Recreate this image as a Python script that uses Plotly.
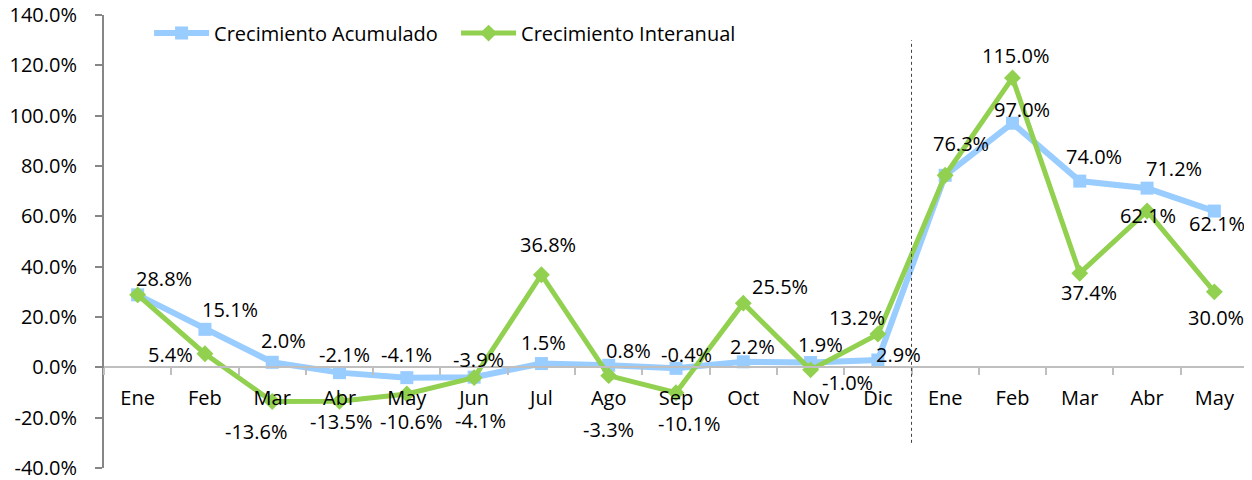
import plotly.graph_objects as go

months = ["Ene", "Feb", "Mar", "Abr", "May", "Jun", "Jul", "Ago", "Sep", "Oct", "Nov", "Dic",
          "Ene", "Feb", "Mar", "Abr", "May"]
first_year_len = 12
acumulado = [28.8, 15.1, 2.0, -2.1, -4.1, -3.9, 1.5, 0.8, -0.4, 2.2, 1.9, 2.9,
             76.3, 97.0, 74.0, 71.2, 62.1]
interanual = [28.8, 5.4, -13.6, -13.5, -10.6, -4.1, 36.8, -3.3, -10.1, 25.5, -1.0, 13.2,
              76.3, 115.0, 37.4, 62.1, 30.0]
ytick_vals = [-40, -20, 0, 20, 40, 60, 80, 100, 120, 140]

# label offsets in px (dx right, dy down); None = no separate label
acu_off = [(26, -16), (25, -20), (11, -22), (5, -18), (0, -23), (4, -18), (2, -21), (20, -15),
           (10, -14), (9, -15), (10, -18), (21, -6), (16, -32), (10, -14), (14, -25), (27, -20), (3, 12)]
int_off = [None, (-34, 1), (-16, 30), (2, 20), (5, 27), (6, 43), (7, -30), (0, 54),
           (13, 31), (37, -17), (37, 13), (-21, -17), None, (4, -22), (9, 19), (1, 4), (2, 26)]

FONT = "Open Sans"
FS = 20
BLUE = "#99CCFF"
GREEN = "#92D050"

x = list(range(len(months)))

fig = go.Figure()
fig.add_trace(go.Scatter(
    x=x, y=acumulado, name="Crecimiento Acumulado", mode="lines+markers",
    line=dict(color=BLUE, width=6), marker=dict(symbol="square", size=13, color=BLUE),
    cliponaxis=False,
))
fig.add_trace(go.Scatter(
    x=x, y=interanual, name="Crecimiento Interanual", mode="lines+markers",
    line=dict(color=GREEN, width=5), marker=dict(symbol="diamond", size=13, color=GREEN),
    cliponaxis=False,
))

annotations = []
for series, offs in ((acumulado, acu_off), (interanual, int_off)):
    for i, (v, off) in enumerate(zip(series, offs)):
        if off is None:
            continue
        annotations.append(dict(
            x=i, y=v, xref="x", yref="y", text=f"{v:.1f}%", showarrow=False,
            xshift=off[0], yshift=-off[1], font=dict(family=FONT, size=FS, color="black"),
        ))

sep = first_year_len - 0.5
fig.add_shape(type="line", x0=sep, x1=sep, y0=-30, y1=130, xref="x", yref="y",
              line=dict(color="#404040", width=1, dash="3px,3px"))

ymin, ymax = ytick_vals[0], ytick_vals[-1]
fig.update_layout(
    width=1244, height=472,
    margin=dict(l=96, r=4, t=7, b=12, autoexpand=False),
    paper_bgcolor="white", plot_bgcolor="white",
    font=dict(family=FONT, size=FS, color="black"),
    showlegend=True,
    legend=dict(orientation="h", x=0.0394, y=0.96, xanchor="left", yanchor="middle",
                bgcolor="rgba(0,0,0,0)", font=dict(family=FONT, size=FS, color="black"),
                entrywidth=237, entrywidthmode="pixels", itemwidth=55),
    annotations=annotations,
    xaxis=dict(
        range=[-0.5, len(months) - 0.5], tickmode="array", tickvals=x, ticktext=months,
        showgrid=False, zeroline=False, showline=True, linecolor="#BFBFBF", linewidth=2,
        ticks="", ticklabelstandoff=13, automargin=False, ticklabeloverflow="allow",
        minor=dict(tickmode="array", tickvals=[i - 0.5 for i in range(len(months) + 1)],
                   ticks="outside", ticklen=7, tickcolor="#BFBFBF", tickwidth=2, showgrid=False),
        anchor="free", position=(0 - ymin) / (ymax - ymin),
        tickfont=dict(family=FONT, size=FS, color="black"),
    ),
    yaxis=dict(
        range=[ymin, ymax], tickmode="array", tickvals=ytick_vals,
        ticktext=[f"{v:.1f}%" for v in ytick_vals], automargin=False,
        ticklabeloverflow="allow",
        showgrid=False, zeroline=False, showline=True, linecolor="#868686", linewidth=2,
        ticks="outside", ticklen=7, tickcolor="#868686", tickwidth=2, ticklabelstandoff=14,
        tickfont=dict(family=FONT, size=FS, color="black"),
    ),
)

fig.write_html("out.html")
